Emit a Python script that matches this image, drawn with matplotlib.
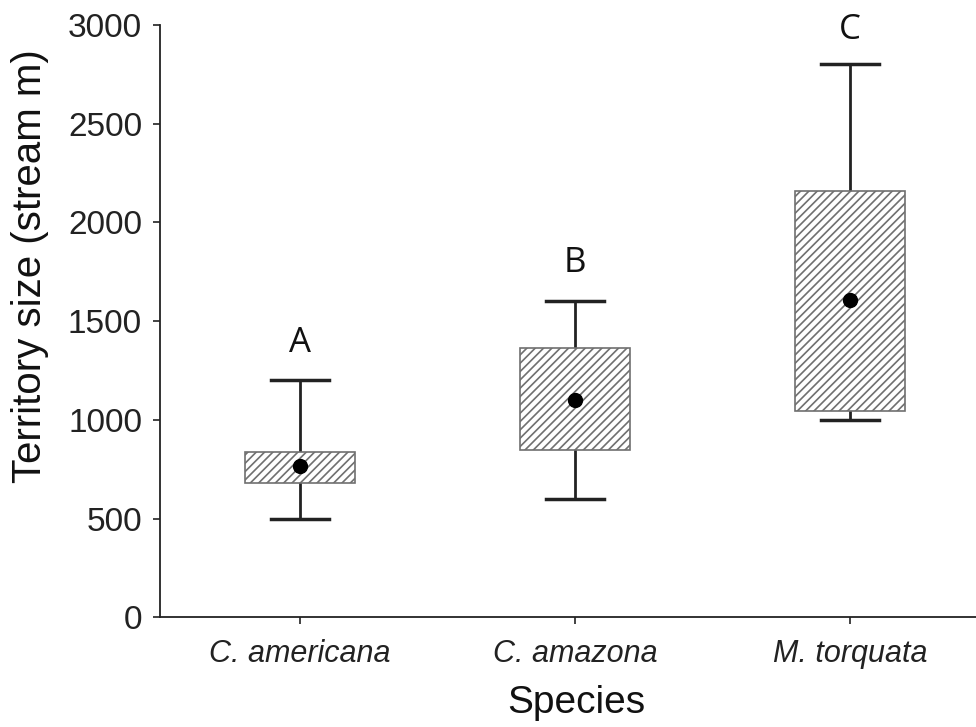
import numpy as np
import matplotlib
matplotlib.use("Agg")
from matplotlib import pyplot as plt

species = ["C. americana", "C. amazona", "M. torquata"]
whisker_low = [500, 600, 1000]
q1 = [680, 845, 1045]
q3 = [835, 1362, 2160]
whisker_high = [1200, 1600, 2800]
centre = [765, 1100, 1605]
letters = ["A", "B", "C"]
letter_y = [1390, 1795, 2975]

plt.rcParams['hatch.linewidth'] = 1.2
plt.rcParams['font.family'] = ['Liberation Sans', 'DejaVu Sans']

fig = plt.figure(figsize=(9.76, 7.27), dpi=100)
ax = fig.add_axes([0.164, 0.151, 0.836, 0.8146])

stats = []
for i in range(len(species)):
    stats.append(dict(label=species[i], whislo=whisker_low[i], q1=q1[i], med=centre[i],
                      q3=q3[i], whishi=whisker_high[i], mean=centre[i], fliers=[]))

pos = np.arange(1, len(species) + 1)
bp = ax.bxp(stats, positions=pos, widths=0.4, patch_artist=True, showmeans=True,
            boxprops=dict(facecolor='white', edgecolor='#707070', linewidth=1.2, hatch='////'),
            whiskerprops=dict(color='#222222', linewidth=2),
            capprops=dict(color='#222222', linewidth=2.5),
            capwidths=0.21,
            medianprops=dict(linewidth=0),
            meanprops=dict(marker='o', markerfacecolor='black', markeredgecolor='black', markersize=10))
for w in bp['whiskers']:
    w.set_zorder(1)

for p, t, y in zip(pos, letters, letter_y):
    ax.text(p, y, t, ha='center', va='center', fontsize=25, family=['Open Sans', 'DejaVu Sans'], color='#111111')

ax.set_xlim(0.491, 3.458)
ax.set_ylim(0, 3000)
ax.set_yticks(np.arange(0, 3001, 500))
ax.set_xticks(pos)
ax.set_xticklabels(species, fontstyle='italic', fontsize=22)
ax.tick_params(axis='y', labelsize=24, length=5, width=1.2, colors='#222222', pad=8)
ax.tick_params(axis='x', length=5, width=1.2, colors='#222222', pad=11)
ax.spines['top'].set_visible(False)
ax.spines['right'].set_visible(False)
ax.spines['left'].set_linewidth(1.3)
ax.spines['bottom'].set_linewidth(1.3)
ax.spines['left'].set_color('#222222')
ax.spines['bottom'].set_color('#222222')
ax.set_ylabel('Territory size (stream m)', fontsize=29, color='#111111')
ax.set_xlabel('Species', fontsize=28, color='#111111')
ax.yaxis.set_label_coords(-0.136, 0.593)
ax.xaxis.set_label_coords(0.51, -0.115)

fig.savefig('out.png', dpi=100)
